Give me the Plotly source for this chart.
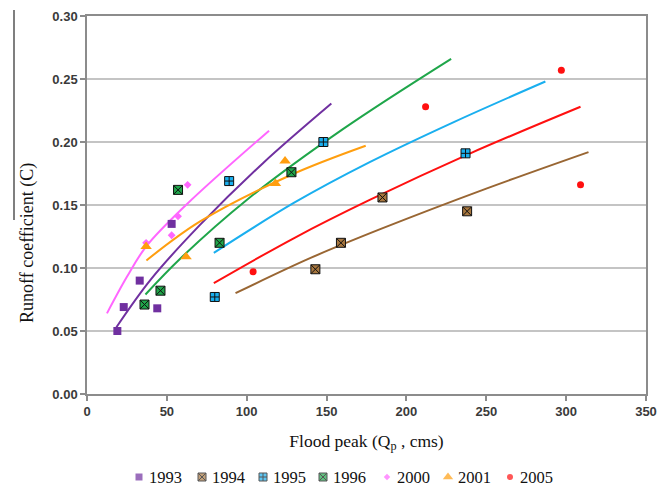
import plotly.graph_objects as go

# ---------------- data ----------------
years = ["1993", "1994", "1995", "1996", "2000", "2001", "2005"]

# observed points
x1993 = [19, 23, 33, 44, 53]
y1993 = [0.050, 0.069, 0.090, 0.068, 0.135]
x1994 = [143, 159, 185, 238]
y1994 = [0.099, 0.120, 0.156, 0.145]
x1995 = [80, 89, 148, 237]
y1995 = [0.077, 0.169, 0.200, 0.191]
x1996 = [36, 46, 57, 83, 128]
y1996 = [0.071, 0.082, 0.162, 0.120, 0.176]
x2000 = [37, 53, 57, 63]
y2000 = [0.120, 0.126, 0.141, 0.166]
x2001 = [37, 62, 118, 124]
y2001 = [0.117, 0.109, 0.167, 0.185]
x2005 = [104, 212, 297, 309]
y2005 = [0.097, 0.228, 0.257, 0.166]

# fitted curves
cx1993 = [18.4, 40, 70.6, 110, 153]
cy1993 = [0.053, 0.091, 0.134, 0.183, 0.2305]
cx1994 = [93, 140, 184, 250, 314]
cy1994 = [0.080, 0.108, 0.131, 0.163, 0.192]
cx1995 = [79.4, 130, 177, 230, 287]
cy1995 = [0.112, 0.152, 0.184, 0.216, 0.248]
cx1996 = [36.6, 58, 100, 160, 228]
cy1996 = [0.079, 0.107, 0.154, 0.210, 0.266]
cx2000 = [12.5, 25, 37, 62, 114]
cy2000 = [0.064, 0.093, 0.117, 0.150, 0.209]
cx2001 = [37.2, 70.8, 128, 174.5]
cy2001 = [0.106, 0.137, 0.174, 0.197]
cx2005 = [79.4, 130, 177, 240, 309]
cy2005 = [0.088, 0.124, 0.154, 0.191, 0.228]

x_ticks = [0, 50, 100, 150, 200, 250, 300, 350]
y_ticks = [0.00, 0.05, 0.10, 0.15, 0.20, 0.25, 0.30]

# ---------------- styling / layout ----------------
pts = [(x1993, y1993), (x1994, y1994), (x1995, y1995), (x1996, y1996),
       (x2000, y2000), (x2001, y2001), (x2005, y2005)]
curves = [(cx1993, cy1993), (cx1994, cy1994), (cx1995, cy1995), (cx1996, cy1996),
          (cx2000, cy2000), (cx2001, cy2001), (cx2005, cy2005)]
line_colors = ["#7030A0", "#996633", "#1AAFEF", "#1FA64A", "#FF66FF", "#FF9E0F", "#FF1010"]
marker_colors = ["#7030A0", "#A8773F", "#1AAFEF", "#1FA64A", "#FF66FF", "#FF9E0F", "#FF1010"]
symbols = ["square", "square-x", "square-cross", "square-x", "diamond", "triangle-up", "circle"]
sizes = [8, 9, 9, 9, 6, 10, 7]
outline = [0, 1, 1, 1, 0, 0, 0]

SERIF = "Liberation Serif"
SANS = "Liberation Sans"

W, H = 660, 480          # figure size (page adds an 8 px body margin)
OFF = 8

def px_x(page_x):        # page pixel -> paper fraction
    return (page_x - OFF) / W

def px_y(page_y):
    return (H + OFF - page_y) / H

# legend key layout (page pixels)
legend_key_x = [139, 202, 263, 323, 387, 448, 510]
legend_text_gap = 9
legend_row_y = 477

fig = go.Figure()

for (cx, cy), col in zip(curves, line_colors):
    fig.add_trace(go.Scatter(x=cx, y=cy, mode="lines", showlegend=False,
                             line=dict(color=col, width=2, shape="spline", smoothing=1),
                             hoverinfo="skip"))

for name, (px, py), col, sym, sz, ol in zip(years, pts, marker_colors, symbols, sizes, outline):
    fig.add_trace(go.Scatter(x=px, y=py, mode="markers", name=name, showlegend=False,
                             marker=dict(color=col, symbol=sym, size=sz,
                                         line=dict(color="#111111", width=ol))))

# legend keys on an invisible full-figure overlay axis measured in page pixels
fig.add_trace(go.Scatter(
    x=legend_key_x, y=[legend_row_y] * len(legend_key_x), mode="markers",
    xaxis="x2", yaxis="y2", showlegend=False, hoverinfo="skip",
    marker=dict(color=marker_colors, symbol=symbols,
                size=[s - 1 for s in sizes],
                line=dict(color="#111111", width=outline))))

for name, kx in zip(years, legend_key_x):
    fig.add_annotation(text=name, showarrow=False, xref="paper", yref="paper",
                       x=px_x(kx + legend_text_gap), y=px_y(legend_row_y),
                       xanchor="left", yanchor="middle", borderpad=0,
                       font=dict(family=SERIF, size=16.5, color="#111111"))

axis_common = dict(
    showline=True, linecolor="#8C8C8C", linewidth=1.5, mirror=True,
    ticks="outside", ticklen=5, tickcolor="#8C8C8C", tickwidth=1.5,
    tickfont=dict(family=SANS, size=13, color="#3A3A3A", weight="bold"),
    zeroline=False,
)

fig.update_xaxes(range=[0, 350], tickvals=x_ticks, ticktext=[str(v) for v in x_ticks],
                 showgrid=False, domain=[px_x(87), px_x(646)],
                 title=dict(text="Flood peak (Q<sub>p</sub> , cms)",
                            font=dict(family=SERIF, size=17.5, color="#111111"), standoff=16),
                 **axis_common)
fig.update_yaxes(range=[0, 0.30], tickvals=y_ticks, ticktext=[f"{v:.2f}" for v in y_ticks],
                 showgrid=True, gridcolor="#C4C4C4", gridwidth=1.5,
                 domain=[px_y(394), px_y(16)],
                 **axis_common)

fig.update_layout(
    xaxis2=dict(domain=[0, 1], range=[OFF, OFF + W], visible=False, anchor="y2",
                fixedrange=True),
    yaxis2=dict(domain=[0, 1], range=[OFF + H, OFF], visible=False, anchor="x2",
                fixedrange=True),
)

fig.add_annotation(text="Runoff coefficient (C)", textangle=-90, showarrow=False,
                   xref="paper", yref="paper", x=px_x(27), y=px_y(243),
                   xanchor="center", yanchor="middle",
                   font=dict(family=SERIF, size=18, color="#111111"))

fig.add_shape(type="line", xref="paper", yref="paper",
              x0=px_x(14), x1=px_x(14), y0=px_y(10), y1=px_y(220),
              line=dict(color="#555555", width=1.5))

fig.update_layout(
    width=W, height=H,
    margin=dict(l=0, r=0, t=0, b=0, autoexpand=False),
    paper_bgcolor="white", plot_bgcolor="rgba(0,0,0,0)",
    font=dict(family=SERIF),
    showlegend=False,
)

fig.write_html("out.html")
